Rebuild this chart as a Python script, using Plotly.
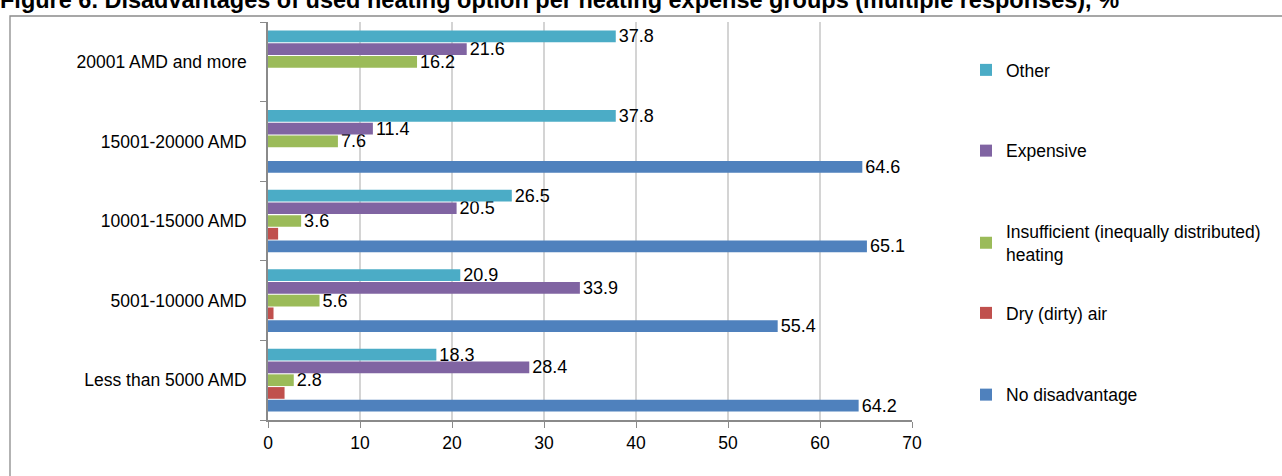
import plotly.graph_objects as go

categories = ["Less than 5000 AMD", "5001-10000 AMD", "10001-15000 AMD", "15001-20000 AMD", "20001 AMD and more"]
no_disadvantage = [64.2, 55.4, 65.1, 64.6, None]
dry_air = [1.8, 0.6, 1.1, None, None]
insufficient = [2.8, 5.6, 3.6, 7.6, 16.2]
expensive = [28.4, 33.9, 20.5, 11.4, 21.6]
other = [18.3, 20.9, 26.5, 37.8, 37.8]
x_ticks = [0, 10, 20, 30, 40, 50, 60, 70]

series = [
    ("No disadvantage", no_disadvantage, "#4F81BD", True, "legend2"),
    ("Dry (dirty) air", dry_air, "#C0504D", False, "legend2"),
    ("Insufficient (inequally distributed)<br>heating", insufficient, "#9BBB59", True, "legend"),
    ("Expensive", expensive, "#8064A2", True, "legend"),
    ("Other", other, "#4BACC6", True, "legend"),
]

FONT = "Liberation Sans, Arial, sans-serif"
FS = 17.5
fig = go.Figure()
n = len(series)
for i, (name, vals, color, lab, lg) in enumerate(series):
    txt = [("" if v is None else f"{v:.1f}") if lab else "" for v in vals]
    fig.add_trace(go.Bar(
        y=categories, x=vals, name=name, orientation="h",
        marker=dict(color=color, line=dict(width=0)),
        text=txt, textposition="outside", constraintext="none", cliponaxis=False,
        textfont=dict(family=FONT, size=18, color="#000"),
        legendgroup=f"g{i}", legendrank=n - i, legend=lg,
    ))

W, H = 1282, 476
L, R, T, B = 268, 370, 22, 56
pw, ph = W - L - R, H - T - B

def px_x(x):
    return (x - L) / pw

def px_y(y):
    return (H - B - y) / ph

fig.add_shape(type="rect", xref="paper", yref="paper",
              x0=px_x(10), x1=px_x(1300), y0=px_y(490), y1=px_y(16),
              line=dict(color="#8a8a8a", width=1.3), fillcolor="rgba(0,0,0,0)", layer="below")

fig.add_annotation(text="<b>Figure 6. Disadvantages of used heating option per heating expense groups (multiple responses), %</b>",
                   xref="paper", yref="paper", x=px_x(-2), y=px_y(0), xanchor="left", yanchor="middle",
                   showarrow=False, font=dict(family=FONT, size=23.5, color="#000"))

legend_common = dict(xanchor="left", yanchor="top", traceorder="grouped",
                     font=dict(family=FONT, size=FS, color="#000"),
                     itemwidth=30, bgcolor="rgba(0,0,0,0)")

fig.update_layout(
    width=W, height=H,
    margin=dict(l=L, r=R, t=T, b=B),
    barmode="group", bargap=0.2, bargroupgap=0.08,
    plot_bgcolor="white", paper_bgcolor="white",
    font=dict(family=FONT, size=FS, color="#000"),
    showlegend=True,
    legend=dict(x=px_x(966), y=px_y(52), tracegroupgap=55, **legend_common),
    legend2=dict(x=px_x(966), y=px_y(295), tracegroupgap=56, **legend_common),
    xaxis=dict(range=[0, 70], tickvals=x_ticks, showgrid=True, gridcolor="#d4d4d4", gridwidth=2,
               showline=True, linecolor="#8a8a8a", linewidth=1.5, ticks="outside", ticklen=6,
               tickcolor="#8a8a8a", zeroline=False, tickfont=dict(size=FS)),
    yaxis=dict(type="category", categoryorder="array", categoryarray=categories,
               showline=True, linecolor="#8a8a8a", linewidth=1.5, ticks="outside", ticklen=6,
               tickcolor="#8a8a8a", tickson="boundaries", ticklabelstandoff=16,
               showgrid=False, tickfont=dict(size=FS)),
)

fig.write_html("out.html")
